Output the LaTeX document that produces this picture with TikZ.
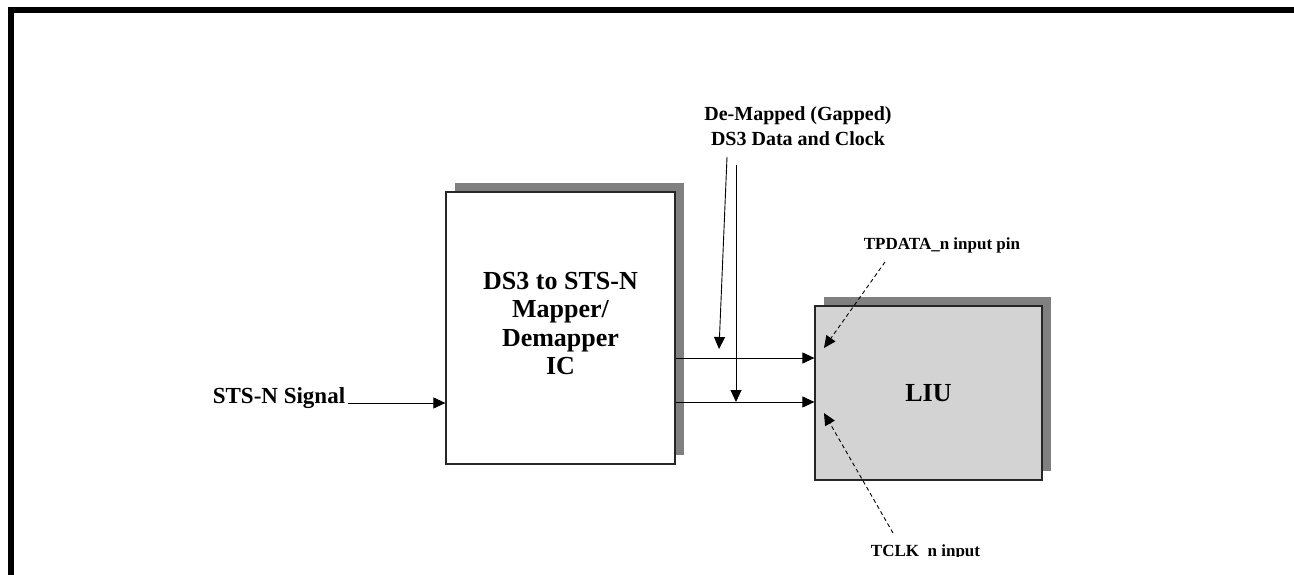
\documentclass[tikz,border=0pt]{standalone}
\usepackage{fontspec}
\setmainfont{Liberation Serif}
\usetikzlibrary{arrows.meta,shadows}
\definecolor{liugray}{RGB}{211,211,211}
\definecolor{shadowgray}{RGB}{128,128,128}

\begin{document}
\begin{tikzpicture}[x=1pt, y=-1pt,
        block/.style={draw=black!85, line width=1.2pt, align=center,
            drop shadow={shadow xshift=9pt, shadow yshift=9pt,
                fill=shadowgray, opacity=1}},
        sig/.style={-{Triangle[length=12pt,width=11pt]}, line width=0.9pt},
        pinarrow/.style={sig, dash pattern=on 4pt off 3pt},
        pintext/.style={font=\bfseries\fontsize{17}{20}\selectfont, inner sep=2pt}]
        \useasboundingbox (0,0) rectangle (1294,575);
        \draw[line width=6pt] (11,575) -- (11,10) -- (1294,10);

        \node[block, fill=white, minimum width=229pt, minimum height=272pt,
            text depth=9pt, font=\bfseries\fontsize{26}{28.3}\selectfont]
            (mapper) at (560.5,328) {DS3 to STS-N\\Mapper/\\Demapper\\IC};
        \node[block, fill=liugray, minimum width=227pt, minimum height=174pt,
            font=\bfseries\fontsize{26}{30}\selectfont]
            (liu) at (928.5,393) {LIU};

        \node[font=\bfseries\fontsize{23}{27}\selectfont, inner sep=3pt, anchor=base]
            (sts) at (279,403) {STS-N Signal};
        \node[align=center, font=\bfseries\fontsize{20}{24.5}\selectfont]
            (demap) at (798,126) {De-Mapped (Gapped)\\DS3 Data and Clock};
        \node[pintext, anchor=base] (tpdata) at (942,249) {TPDATA\_n input pin};
        \begin{scope}
            \clip (800,500) rectangle (1100,556);
            \node[pintext, anchor=base] (tclk) at (925.5,556) {TCLK\_n input};
        \end{scope}

        \coordinate (dataline) at (0,358);
        \coordinate (clkline) at (0,402);
        \coordinate (demapdata) at (727,157);
        \coordinate (demapdatatip) at (719,349);
        \coordinate (demapclk) at (736,165);
        \coordinate (tpdatatail) at (885,262);
        \coordinate (tpdatatip) at (824,348);
        \coordinate (tclktail) at (893,533);
        \coordinate (tclktip) at (824,413);

        \draw[sig] (sts.base east) -- (mapper.west |- sts.base east);
        \draw[sig] (mapper.east |- dataline) -- (liu.west |- dataline);
        \draw[sig] (mapper.east |- clkline) -- (liu.west |- clkline);
        \draw[sig] (demapdata) -- (demapdatatip);
        \draw[sig] (demapclk) -- (demapclk |- clkline);
        \draw[pinarrow] (tpdatatail) -- (tpdatatip);
        \draw[pinarrow] (tclktail) -- (tclktip);
\end{tikzpicture}
\end{document}
